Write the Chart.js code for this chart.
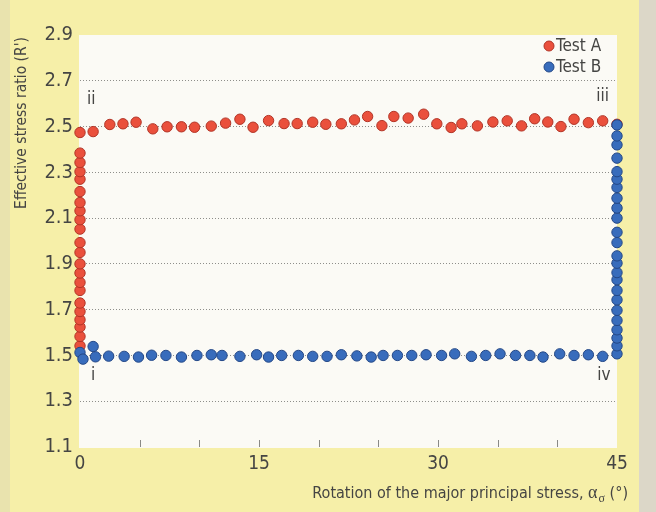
<!DOCTYPE html>
<html>
<head>
<meta charset="utf-8">
<script src="https://cdn.jsdelivr.net/npm/chart.js@4.4.0/dist/chart.umd.min.js"></script>
<style>
  html, body { margin: 0; padding: 0; background: #f6efa8; }
  canvas { display: block; }
</style>
</head>
<body>
<canvas id="chart" width="656" height="512"></canvas>
<script>
// Test A: rotation held at 0° while R' rises (i -> ii), then rotation to 45° at R' ≈ 2.5 (ii -> iii)
const testAAngle = [
  0, 0, 0, 0, 0, 0, 0, 0, 0, 0, 0, 0, 0, 0, 0, 0, 0, 0, 0, 0, 0,
  0, 1.1, 2.5, 3.6, 4.7, 6.1, 7.3, 8.5, 9.6, 11.0, 12.2, 13.4, 14.5, 15.8, 17.1, 18.2, 19.5, 20.6, 21.9, 23.0,
  24.1, 25.3, 26.3, 27.5, 28.8, 29.9, 31.1, 32.0, 33.3, 34.6, 35.8, 37.0, 38.1, 39.2, 40.3, 41.4, 42.6, 43.8, 45
];
const testARatio = [
  1.542, 1.583, 1.624, 1.656, 1.692, 1.729, 1.784, 1.819, 1.860, 1.900, 1.950, 1.993, 2.052, 2.093, 2.132, 2.168, 2.216, 2.270, 2.303, 2.343, 2.384,
  2.474, 2.478, 2.509, 2.512, 2.519, 2.490, 2.499, 2.499, 2.497, 2.502, 2.515, 2.532, 2.497, 2.526, 2.513, 2.513, 2.519, 2.510, 2.512, 2.529,
  2.544, 2.504, 2.544, 2.537, 2.554, 2.512, 2.496, 2.512, 2.503, 2.520, 2.525, 2.503, 2.534, 2.520, 2.500, 2.532, 2.517, 2.525, 2.510
];

// Test B: rotation to 45° at R' ≈ 1.5 (i -> iv), then R' rises at 45° (iv -> iii)
const testBAngle = [
  0, 0.25, 1.1, 1.3, 2.4, 3.7, 4.9, 6.0, 7.2, 8.5, 9.8, 11.0, 11.9, 13.4, 14.8, 15.8, 16.9, 18.3, 19.5, 20.7,
  21.9, 23.2, 24.4, 25.4, 26.6, 27.8, 29.0, 30.3, 31.4, 32.8, 34.0, 35.2, 36.5, 37.7, 38.8, 40.2, 41.4, 42.6, 43.8, 45,
  45, 45, 45, 45, 45, 45, 45, 45, 45, 45, 45, 45, 45, 45, 45, 45, 45, 45, 45, 45, 45, 45, 45
];
const testBRatio = [
  1.513, 1.484, 1.539, 1.494, 1.497, 1.496, 1.493, 1.501, 1.500, 1.493, 1.500, 1.503, 1.500, 1.496, 1.503, 1.493, 1.500, 1.500, 1.496, 1.496,
  1.503, 1.498, 1.493, 1.500, 1.500, 1.500, 1.503, 1.500, 1.507, 1.496, 1.500, 1.507, 1.500, 1.500, 1.493, 1.507, 1.500, 1.503, 1.496, 1.507,
  1.542, 1.576, 1.612, 1.653, 1.697, 1.743, 1.784, 1.831, 1.862, 1.903, 1.935, 1.993, 2.038, 2.100, 2.144, 2.187, 2.234, 2.270, 2.303, 2.362, 2.420, 2.459, 2.507
];

const seriesNames = ['Test A', 'Test B'];
const xTickValues = [0, 15, 30, 45];
const xMinorTickValues = [5, 10, 15, 20, 25, 30, 35, 40];
const yTickValues = [1.1, 1.3, 1.5, 1.7, 1.9, 2.1, 2.3, 2.5, 2.7, 2.9];
const stageLabels = [
  { text: 'i',   x: 1.1,  y: 1.41 },
  { text: 'ii',  x: 0.95, y: 2.62 },
  { text: 'iii', x: 43.8, y: 2.63 },
  { text: 'iv',  x: 43.9, y: 1.41 }
];

const FONT = '"Liberation Sans Narrow", "Arial Narrow", "DejaVu Sans Condensed", "Liberation Sans", sans-serif';
const SERIF = '"Liberation Serif", "DejaVu Serif", serif';
const TEXT = '#454543';
const RED = 'rgb(234, 80, 60)';
const RED_EDGE = 'rgb(178, 52, 38)';
const BLUE = 'rgb(56, 108, 188)';
const BLUE_EDGE = 'rgb(36, 72, 135)';

const toPoints = (xs, ys) => xs.map((x, i) => ({ x, y: ys[i] }));

const decor = {
  id: 'decor',
  beforeDraw(chart) {
    const { ctx, chartArea: a, width, height } = chart;
    ctx.save();
    ctx.fillStyle = '#f6efa8';
    ctx.fillRect(0, 0, width, height);
    // worn paper edges
    ctx.fillStyle = '#e9e3ae';
    ctx.fillRect(0, 0, 10, height);
    ctx.fillStyle = '#dcd7c8';
    ctx.fillRect(639, 0, width - 639, height);
    // plot panel
    ctx.fillStyle = '#fbfaf5';
    ctx.fillRect(a.left - 1, a.top, a.right - a.left + 1, a.bottom - a.top + 1);
    ctx.restore();
  },
  beforeDatasetsDraw(chart) {
    const { ctx, chartArea: a, scales } = chart;
    ctx.save();
    ctx.strokeStyle = '#8a8a86';
    ctx.lineWidth = 1;
    xMinorTickValues.forEach(v => {
      const px = Math.round(scales.x.getPixelForValue(v)) + 0.5;
      ctx.beginPath();
      ctx.moveTo(px, a.bottom);
      ctx.lineTo(px, a.bottom - 7);
      ctx.stroke();
    });
    ctx.restore();
  },
  afterDraw(chart) {
    const { ctx, scales } = chart;
    ctx.save();
    ctx.fillStyle = TEXT;

    // stage markers
    ctx.font = `17px ${FONT}`;
    ctx.textAlign = 'center';
    ctx.textBaseline = 'middle';
    stageLabels.forEach(s => {
      ctx.fillText(s.text, scales.x.getPixelForValue(s.x), scales.y.getPixelForValue(s.y));
    });

    // legend
    const colors = [[RED, RED_EDGE], [BLUE, BLUE_EDGE]];
    ctx.font = `17px ${FONT}`;
    ctx.textAlign = 'left';
    seriesNames.forEach((name, i) => {
      const cy = 46 + i * 21;
      ctx.beginPath();
      ctx.arc(549, cy, 5, 0, Math.PI * 2);
      ctx.fillStyle = colors[i][0];
      ctx.fill();
      ctx.strokeStyle = colors[i][1];
      ctx.lineWidth = 1;
      ctx.stroke();
      ctx.fillStyle = TEXT;
      ctx.fillText(name, 556, cy + 1);
    });

    // y axis title
    ctx.save();
    ctx.translate(22, 37);
    ctx.rotate(-Math.PI / 2);
    ctx.font = `15.5px ${FONT}`;
    ctx.textAlign = 'right';
    ctx.textBaseline = 'middle';
    ctx.fillText("Effective stress ratio (R')", 0, 0);
    ctx.restore();

    // x axis title with subscripted alpha
    const main = 'Rotation of the major principal stress, ';
    const alpha = 'α';
    const sub = 'σ';
    const tail = ' (°)';
    const baseY = 498;
    ctx.textBaseline = 'alphabetic';
    ctx.font = `16px ${FONT}`;
    const wMain = ctx.measureText(main).width;
    const wTail = ctx.measureText(tail).width;
    ctx.font = `18px ${SERIF}`;
    const wAlpha = ctx.measureText(alpha).width;
    ctx.font = `12px ${SERIF}`;
    const wSub = ctx.measureText(sub).width;
    let x = 628 - (wMain + wAlpha + wSub + wTail + 1);
    ctx.font = `16px ${FONT}`;
    ctx.fillText(main, x, baseY); x += wMain;
    ctx.font = `18px ${SERIF}`;
    ctx.fillText(alpha, x, baseY); x += wAlpha + 1;
    ctx.font = `12px ${SERIF}`;
    ctx.fillText(sub, x, baseY + 4); x += wSub;
    ctx.font = `16px ${FONT}`;
    ctx.fillText(tail, x, baseY);
    ctx.restore();
  }
};

new Chart(document.getElementById('chart'), {
  type: 'scatter',
  data: {
    datasets: [
      {
        label: seriesNames[0],
        data: toPoints(testAAngle, testARatio),
        backgroundColor: RED,
        borderColor: RED_EDGE,
        borderWidth: 1,
        pointRadius: 5.2,
        clip: false,
        order: 1
      },
      {
        label: seriesNames[1],
        data: toPoints(testBAngle, testBRatio),
        backgroundColor: BLUE,
        borderColor: BLUE_EDGE,
        borderWidth: 1,
        pointRadius: 5.2,
        clip: false,
        order: 0
      }
    ]
  },
  options: {
    responsive: false,
    animation: false,
    devicePixelRatio: 1,
    layout: { padding: { top: 35, right: 39, left: 0, bottom: 0 } },
    plugins: { legend: { display: false }, tooltip: { enabled: false } },
    scales: {
      x: {
        type: 'linear',
        min: 0,
        max: 45,
        afterFit(scale) { scale.height = 65; },
        afterBuildTicks(scale) { scale.ticks = xTickValues.map(v => ({ value: v })); },
        grid: { display: false, drawTicks: false },
        border: { display: false },
        ticks: {
          padding: 6,
          color: TEXT,
          maxRotation: 0,
          autoSkip: false,
          font: { family: FONT, size: 19 }
        }
      },
      y: {
        type: 'linear',
        min: 1.1,
        max: 2.9,
        afterFit(scale) { scale.width = 80; },
        afterBuildTicks(scale) { scale.ticks = yTickValues.map(v => ({ value: v })); },
        grid: {
          drawTicks: false,
          lineWidth: 1,
          color: ctx => {
            const v = ctx.tick ? ctx.tick.value : 0;
            return (v < 1.15 || v > 2.85) ? 'rgba(0,0,0,0)' : '#8e8e8a';
          }
        },
        border: { display: false, dash: [1, 2] },
        ticks: {
          padding: 7,
          color: TEXT,
          autoSkip: false,
          font: { family: FONT, size: 20 },
          callback: v => Number(v).toFixed(1)
        }
      }
    }
  },
  plugins: [decor]
});
</script>
</body>
</html>
